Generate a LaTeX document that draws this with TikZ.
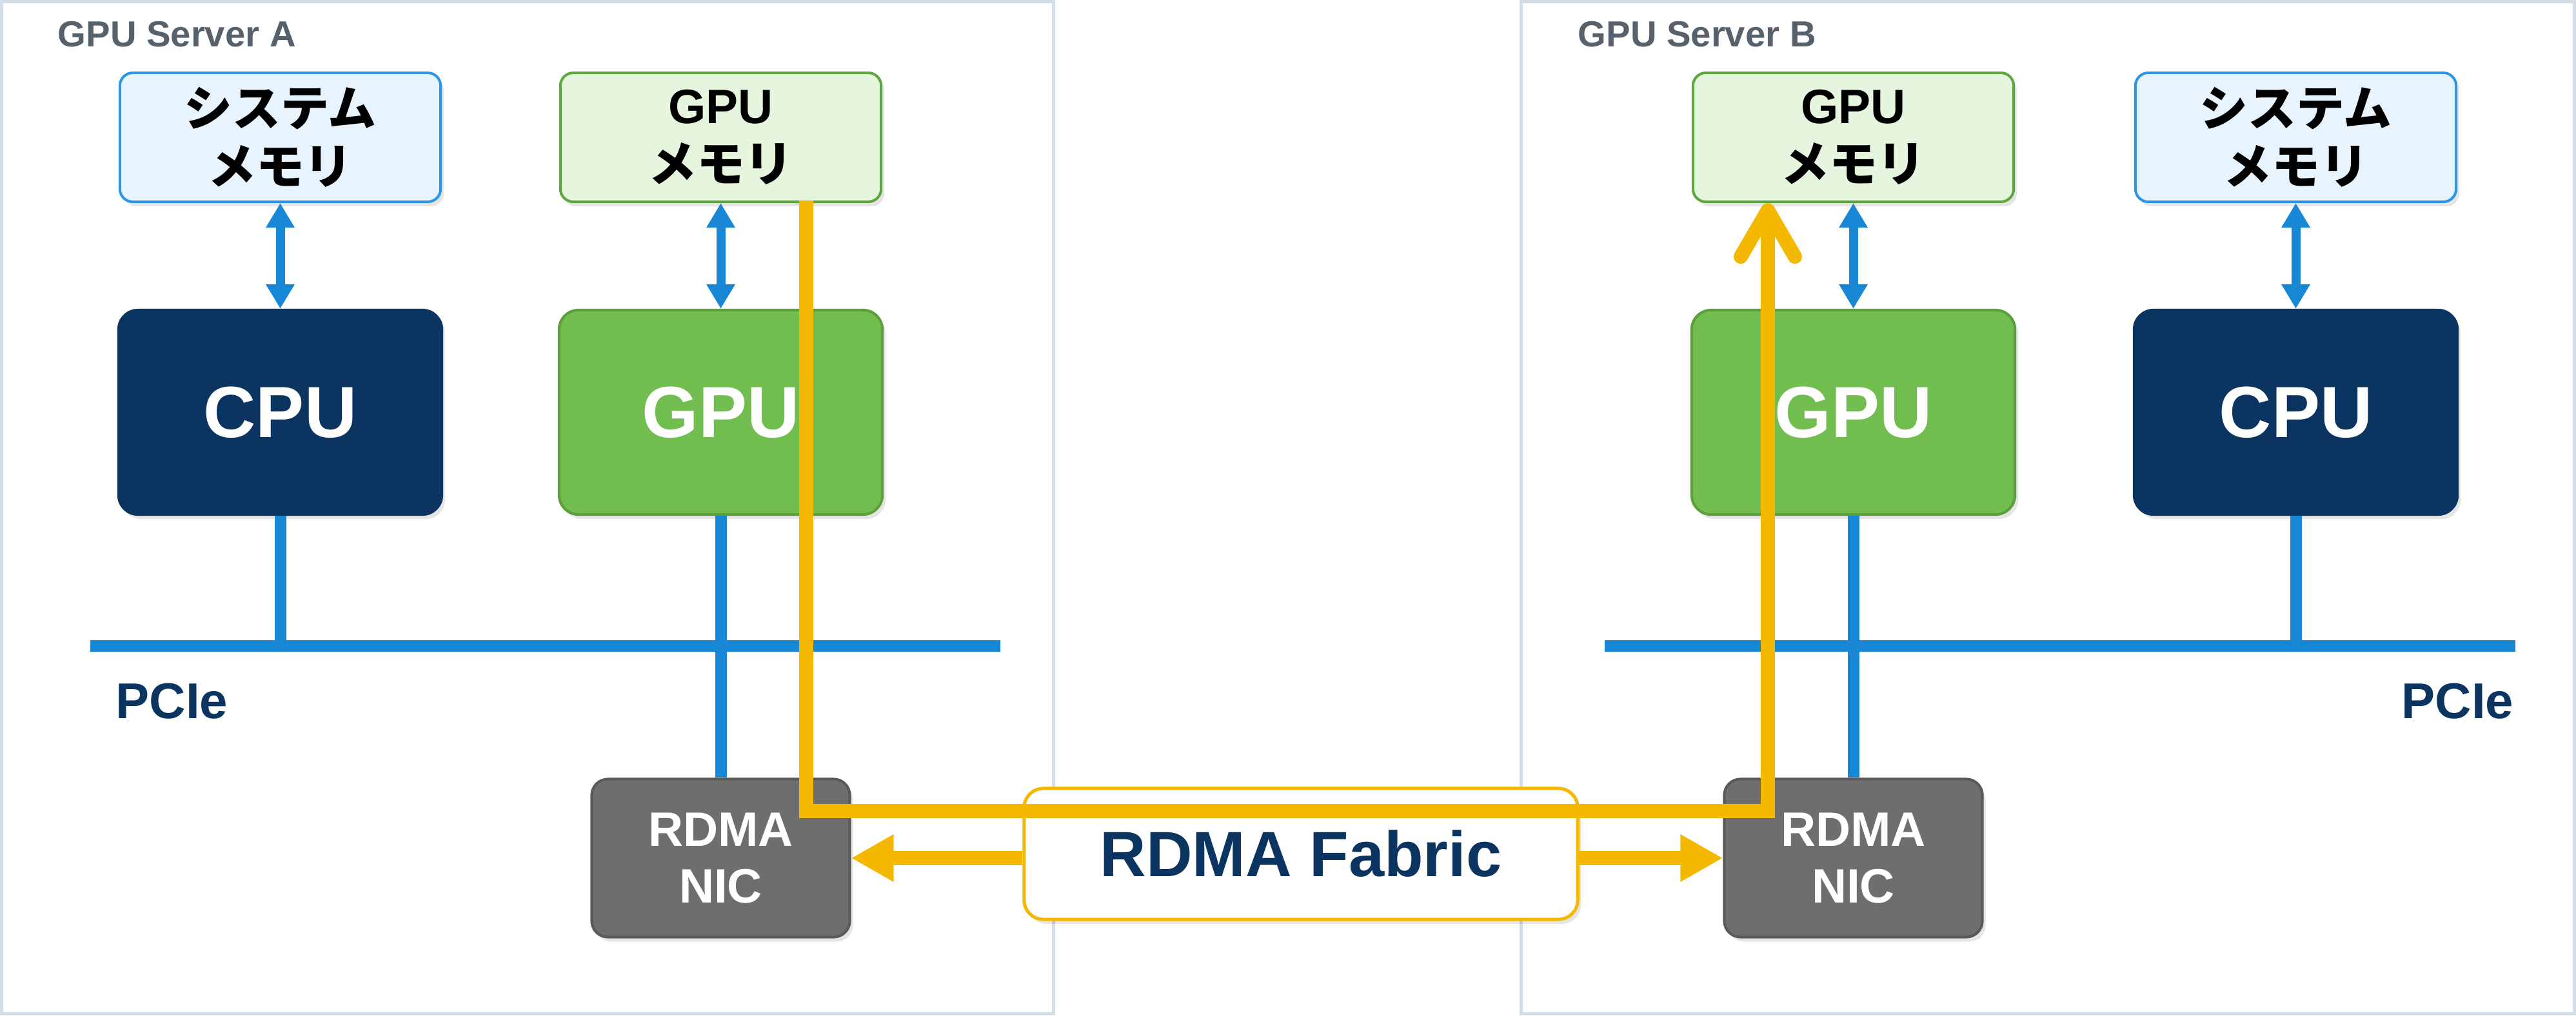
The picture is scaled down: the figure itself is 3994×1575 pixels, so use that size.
\documentclass[tikz,border=0pt]{standalone}
\usepackage{fontspec}
\setmainfont{Liberation Sans}
\newfontfamily\jpfont{Noto Sans CJK JP}
\usetikzlibrary{arrows.meta,shadows}
\definecolor{pcieblue}{HTML}{1787D6}
\definecolor{smfill}{HTML}{E8F4FD}
\definecolor{smdraw}{HTML}{2C96E4}
\definecolor{gmfill}{HTML}{E6F5DE}
\definecolor{gmdraw}{HTML}{5DA640}
\definecolor{gpufill}{HTML}{72BD4F}
\definecolor{gpudraw}{HTML}{5A9F3A}
\definecolor{cpucol}{HTML}{0C3460}
\definecolor{nicfill}{HTML}{6E6E6E}
\definecolor{nicdraw}{HTML}{595959}
\definecolor{orng}{HTML}{F5B800}
\definecolor{srvborder}{HTML}{D3DDE7}
\definecolor{titlegray}{HTML}{56616C}
\definecolor{navy}{HTML}{0C3460}
\begin{document}
\begin{tikzpicture}[x=0.01cm,y=-0.01cm,
  box/.style={rectangle, rounded corners=0.2cm, line width=0.04cm, align=center, inner sep=0pt,
    drop shadow={shadow xshift=0.05cm, shadow yshift=-0.07cm, opacity=0.10, fill=black}},
  membox/.style={box, minimum width=4.97cm, minimum height=2.0cm, text=black,
    font=\fontsize{21.3}{25.5}\selectfont\bfseries},
  sysmem/.style={membox, fill=smfill, draw=smdraw},
  gpumem/.style={membox, fill=gmfill, draw=gmdraw},
  chip/.style={box, rounded corners=0.3cm, minimum width=5.01cm, minimum height=3.17cm, text=white,
    font=\fontsize{32}{38}\selectfont\bfseries},
  cpubox/.style={chip, fill=cpucol, draw=cpucol},
  gpubox/.style={chip, fill=gpufill, draw=gpudraw},
  nicbox/.style={box, rounded corners=0.25cm, minimum width=4.0cm, minimum height=2.45cm,
    fill=nicfill, draw=nicdraw, text=white, font=\fontsize{21.3}{24.8}\selectfont\bfseries},
  fabricbox/.style={box, rounded corners=0.3cm, line width=0.05cm, minimum width=8.58cm,
    minimum height=2.03cm, fill=white, draw=orng, text=navy, font=\fontsize{28.2}{33}\selectfont\bfseries},
  server/.style={draw=srvborder, line width=0.05cm},
  title/.style={anchor=base west, text=titlegray, inner sep=0pt, font=\fontsize{16}{19}\selectfont\bfseries},
  pcie/.style={text=navy, inner sep=0pt, font=\fontsize{22.2}{26}\selectfont\bfseries},
  bus/.style={draw=pcieblue, line width=0.18cm},
  link/.style={draw=pcieblue, line width=0.18cm},
  memlink/.style={draw=pcieblue, line width=0.14cm,
    {Triangle[length=0.38cm,width=0.42cm]}-{Triangle[length=0.38cm,width=0.42cm]}},
  fabarrow/.style={draw=orng, line width=0.22cm, -{Triangle[length=0.66cm,width=0.69cm]}},
  dataflow/.style={draw=orng, line width=0.22cm, -{Straight Barb[round,length=0.72cm,width=0.84cm]}}
]
\useasboundingbox (0,0) rectangle (3994,1575);

% server frames
\draw[server] (2.5,2.5) rectangle (1633,1572.5);
\draw[server] (2358,2.5) rectangle (3991.5,1572.5);
\node[title] (titleA) at (89,72) {GPU Server A};
\node[title] (titleB) at (2446,72) {GPU Server B};

% buses
\coordinate (busAw) at (140,1002);
\coordinate (busAe) at (1551,1002);
\coordinate (busBw) at (2488,1002);
\coordinate (busBe) at (3900,1002);
\draw[bus] (busAw) -- (busAe);
\draw[bus] (busBw) -- (busBe);
\node[pcie, anchor=base west] (pcieA) at (179,1114) {PCIe};
\node[pcie, anchor=base east] (pcieB) at (3898,1114) {PCIe};

% server A
\node[sysmem] (smA) at (434.5,213) {\jpfont システム\\\jpfont メモリ};
\node[gpumem] (gmA) at (1117.5,213) {GPU\\\jpfont メモリ};
\node[cpubox] (cpuA) at (434.5,639.5) {CPU};
\node[gpubox] (gpuA) at (1117.5,639.5) {GPU};
\node[nicbox] (nicA) at (1117.5,1331) {RDMA\\NIC};

% server B
\node[gpumem] (gmB) at (2873.5,213) {GPU\\\jpfont メモリ};
\node[sysmem] (smB) at (3559.5,213) {\jpfont システム\\\jpfont メモリ};
\node[gpubox] (gpuB) at (2873.5,639.5) {GPU};
\node[cpubox] (cpuB) at (3559.5,639.5) {CPU};
\node[nicbox] (nicB) at (2873.5,1331) {RDMA\\NIC};

% fabric
\node[fabricbox] (fabric) at (2017,1324.5) {RDMA Fabric};

% PCIe links
\draw[link] (cpuA.south) -- (cpuA.south |- busAw);
\draw[link] (gpuA.south) -- (nicA.north);
\draw[link] (cpuB.south) -- (cpuB.south |- busBw);
\draw[link] (gpuB.south) -- (nicB.north);

% memory links
\draw[memlink] (smA.south) -- (cpuA.north);
\draw[memlink] (gmA.south) -- (gpuA.north);
\draw[memlink] (gmB.south) -- (gpuB.north);
\draw[memlink] (smB.south) -- (cpuB.north);

% fabric arrows
\draw[fabarrow] (fabric.west |- nicA.east) -- (nicA.east);
\draw[fabarrow] (fabric.east |- nicB.west) -- (nicB.west);

% GPUDirect RDMA data path
\draw[dataflow] ([xshift=1.325cm,yshift=0.04cm]gmA.south) -- ++(0,947) -| ([xshift=-1.325cm]gmB.south);
\end{tikzpicture}
\end{document}
